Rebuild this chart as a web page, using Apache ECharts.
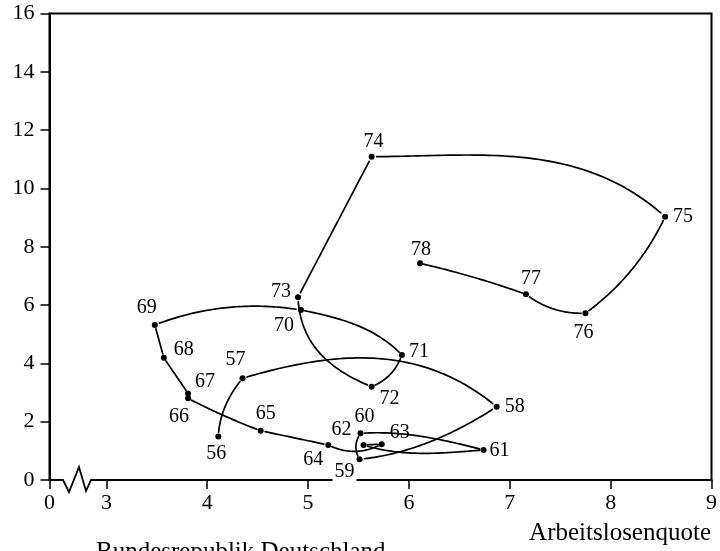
<!DOCTYPE html>
<html><head><meta charset="utf-8">
<script src="https://cdn.jsdelivr.net/npm/echarts@6/dist/echarts.min.js"></script>
<style>html,body{margin:0;padding:0;background:#fff}#c{width:720px;height:551px}</style>
</head><body><div id="c"></div>
<script>
// ---- data ----
const years = ['56','57','58','59','60','61','62','63','64','65','66','67','68','69','70','71','72','73','74','75','76','77','78'];
const unemployment = [4.11,4.35,6.87,5.51,5.52,6.74,5.55,5.73,5.20,4.53,3.81,3.81,3.57,3.48,4.93,5.93,5.63,4.90,5.63,8.54,7.75,7.16,6.11];
const inflation   = [1.49,3.49,2.51,0.71,1.60,1.03,1.20,1.23,1.20,1.69,2.80,2.97,4.19,5.32,5.83,4.29,3.20,6.27,11.09,9.03,5.72,6.37,7.43];
// axis ticks (x axis is broken between 0 and 3; "0" sits at the broken-axis origin)
const xTickPos    = [2.436,3,4,5,6,7,8,9];
const xTickLabels = ['0','3','4','5','6','7','8','9'];
const yTickLabels = ['0','2','4','6','8','10','12','14','16'];

// ---- styling ----
// label offsets in px, per year
const labelOffsets = [[-2,17],[-7,-18],[18,0],[-15,12],[4,-17],[16,1],[-22,-15],[18,-11],[-15,15],[5,-17],[-9,18],[17,-12],[20,-8],[-8,-17],[-17,16],[17,-3],[18,12],[-17,-5],[2,-15],[18,0],[-2,20],[5,-16],[1,-14]];
// curvature of each hand-drawn connecting segment (year i -> i+1): control point offsets as fraction of chord length
const segBends = [[0.12,0.10],[0.14,0.22],[0.07,0.09],[0.21,0.21],[0.07,0.04],[0.04,0.09],[0,0],[0.17,0.17],[0,0],[0.02,0.02],[0,0],[0,0],[0,0],[0.09,0.09],[0.075,0.135],[0.15,0.15],[0.18,0.25],[0,0],[0.068,0.196],[0.085,0.085],[0.12,0.12],[-0.02,-0.02]];

const FONT = '"Liberation Serif","Times New Roman",serif';
const chart = echarts.init(document.getElementById('c'));

const points = years.map((y,i)=>{
  const lab = {offset: labelOffsets[i]};
  if (y==='59') { lab.backgroundColor = '#ffffff'; lab.padding = [0,2]; }
  return {value:[unemployment[i], inflation[i]], label: lab};
});
const segments = years.slice(0,-1).map((_,i)=>[unemployment[i], inflation[i], unemployment[i+1], inflation[i+1]]);

function renderSegment(params, api){
  const i = params.dataIndex;
  const A = api.coord([api.value(0), api.value(1)]);
  const B = api.coord([api.value(2), api.value(3)]);
  const dx = B[0]-A[0], dy = B[1]-A[1], L = Math.hypot(dx,dy);
  if (L < 1e-6) return null;
  const nx = dy/L, ny = -dx/L;
  const b = segBends[i];
  const c1 = [A[0]+dx/3+nx*b[0]*L, A[1]+dy/3+ny*b[0]*L];
  const c2 = [A[0]+2*dx/3+nx*b[1]*L, A[1]+2*dy/3+ny*b[1]*L];
  const gap = Math.min(3.5, L*0.2);
  const pts = [];
  const N = 60;
  for (let k=0;k<=N;k++){
    const t=k/N, mt=1-t;
    const x = mt*mt*mt*A[0]+3*mt*mt*t*c1[0]+3*mt*t*t*c2[0]+t*t*t*B[0];
    const y = mt*mt*mt*A[1]+3*mt*mt*t*c1[1]+3*mt*t*t*c2[1]+t*t*t*B[1];
    if (Math.hypot(x-A[0],y-A[1])<gap || Math.hypot(x-B[0],y-B[1])<gap) continue;
    pts.push([x,y]);
  }
  if (pts.length<2) return null;
  return {type:'polyline', shape:{points:pts}, style:{stroke:'#000', lineWidth:1.7, fill:null, lineJoin:'round', lineCap:'round'}};
}

const option = {
  animation:false,
  backgroundColor:'#fff',
  grid:{left:49.5, right:8.3, top:13.5, bottom:71, show:true, borderColor:'#000', borderWidth:2, backgroundColor:'transparent'},
  title:[
    {text:'Arbeitslosenquote', right:4, top:516, textStyle:{fontFamily:FONT, fontSize:25, fontWeight:'normal', color:'#000'}},
    {text:'Bundesrepublik Deutschland', left:91, top:535, textStyle:{fontFamily:FONT, fontSize:25, fontWeight:'normal', color:'#000'}}
  ],
  xAxis:{type:'value', min:xTickPos[0], max:9,
    axisLine:{show:true, onZero:false, lineStyle:{color:'#000', width:2}},
    splitLine:{show:false},
    axisTick:{show:true, customValues:xTickPos, length:9, lineStyle:{color:'#000', width:1.5}},
    axisLabel:{customValues:xTickPos, color:'#000', fontFamily:FONT, fontSize:22, margin:12,
      formatter:(v)=>{const i=xTickPos.findIndex(t=>Math.abs(t-v)<1e-6); return i>=0?xTickLabels[i]:'';}}
  },
  yAxis:{type:'value', min:0, max:16, interval:2,
    axisLine:{show:true, lineStyle:{color:'#000', width:2}},
    splitLine:{show:false},
    axisTick:{show:true, length:9, lineStyle:{color:'#000', width:1.5}},
    axisLabel:{color:'#000', fontFamily:FONT, fontSize:22, margin:15,
      formatter:(v)=>yTickLabels[Math.round(v/2)]}
  },
  graphic:[
    {type:'rect', z:100, shape:{x:57,y:476,width:36,height:8}, style:{fill:'#fff'}},
    {type:'polyline', z:101, shape:{points:[[55,480],[63,480],[69,492],[79,467],[86,491],[91,480],[95,480]]}, style:{stroke:'#000', lineWidth:1.8, fill:null}}
  ],
  series:[
    {type:'custom', renderItem:renderSegment, data:segments, encode:{x:[0,2], y:[1,3]}, silent:true, z:2},
    {type:'scatter', data:points, symbol:'circle', symbolSize:6, z:3,
      itemStyle:{color:'#000', opacity:1},
      label:{show:true, position:'inside', formatter:(p)=>years[p.dataIndex], color:'#000', opacity:1, textBorderWidth:0, textBorderColor:'transparent', fontFamily:FONT, fontSize:20}}
  ]
};
chart.setOption(option);
</script>
</body></html>
